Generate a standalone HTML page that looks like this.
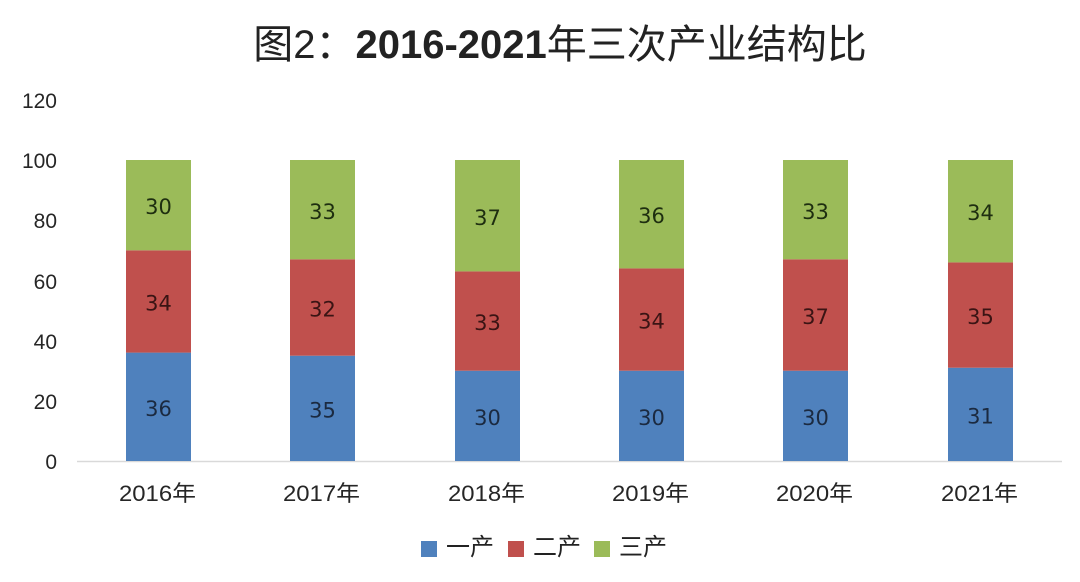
<!DOCTYPE html>
<html><head><meta charset="utf-8"><style>
html,body{margin:0;padding:0;background:#fff;}
svg{display:block;}
text{font-family:"Liberation Sans","Noto Sans CJK SC",sans-serif;}
.lbl{font-family:"DejaVu Sans","Liberation Sans",sans-serif;}
</style></head><body>
<svg width="1080" height="582" viewBox="0 0 1080 582" xmlns="http://www.w3.org/2000/svg">
<rect width="1080" height="582" fill="#fff"/>
<text x="560" y="58" text-anchor="middle" font-size="40" fill="#222"><tspan>图2：</tspan><tspan font-weight="bold">2016-2021</tspan><tspan>年三次产业结构比</tspan></text>
<g font-size="21" fill="#262626" text-anchor="end">
<text x="57" y="108">120</text>
<text x="57" y="168">100</text>
<text x="57" y="228">80</text>
<text x="57" y="289">60</text>
<text x="57" y="349">40</text>
<text x="57" y="409">20</text>
<text x="57" y="469">0</text>
</g>
<line x1="77" y1="461.5" x2="1062" y2="461.5" stroke="#d9d9d9" stroke-width="1.5"/>
<g font-size="21" text-anchor="middle" class="lbl">
<!-- 2016 -->
<rect x="126" y="352.6" width="65" height="108.4" fill="#4F81BD"/>
<rect x="126" y="250.3" width="65" height="102.3" fill="#C0504D"/>
<rect x="126" y="160" width="65" height="90.3" fill="#9BBB59"/>
<text class="lbl" x="158.5" y="416" fill="#1b2a40">36</text>
<text class="lbl" x="158.5" y="310.5" fill="#3a1414">34</text>
<text class="lbl" x="158.5" y="214" fill="#1e2e10">30</text>
<!-- 2017 -->
<rect x="290" y="355.7" width="65" height="105.3" fill="#4F81BD"/>
<rect x="290" y="259.3" width="65" height="96.4" fill="#C0504D"/>
<rect x="290" y="160" width="65" height="99.3" fill="#9BBB59"/>
<text class="lbl" x="322.5" y="417.5" fill="#1b2a40">35</text>
<text class="lbl" x="322.5" y="316.5" fill="#3a1414">32</text>
<text class="lbl" x="322.5" y="219" fill="#1e2e10">33</text>
<!-- 2018 -->
<rect x="455" y="370.7" width="65" height="90.3" fill="#4F81BD"/>
<rect x="455" y="271.4" width="65" height="99.3" fill="#C0504D"/>
<rect x="455" y="160" width="65" height="111.4" fill="#9BBB59"/>
<text class="lbl" x="487.5" y="425" fill="#1b2a40">30</text>
<text class="lbl" x="487.5" y="330" fill="#3a1414">33</text>
<text class="lbl" x="487.5" y="225" fill="#1e2e10">37</text>
<!-- 2019 -->
<rect x="619" y="370.7" width="65" height="90.3" fill="#4F81BD"/>
<rect x="619" y="268.4" width="65" height="102.3" fill="#C0504D"/>
<rect x="619" y="160" width="65" height="108.4" fill="#9BBB59"/>
<text class="lbl" x="651.5" y="425" fill="#1b2a40">30</text>
<text class="lbl" x="651.5" y="328.5" fill="#3a1414">34</text>
<text class="lbl" x="651.5" y="223" fill="#1e2e10">36</text>
<!-- 2020 -->
<rect x="783" y="370.7" width="65" height="90.3" fill="#4F81BD"/>
<rect x="783" y="259.3" width="65" height="111.4" fill="#C0504D"/>
<rect x="783" y="160" width="65" height="99.3" fill="#9BBB59"/>
<text class="lbl" x="815.5" y="425" fill="#1b2a40">30</text>
<text class="lbl" x="815.5" y="324" fill="#3a1414">37</text>
<text class="lbl" x="815.5" y="219" fill="#1e2e10">33</text>
<!-- 2021 -->
<rect x="948" y="367.7" width="65" height="93.3" fill="#4F81BD"/>
<rect x="948" y="262.4" width="65" height="105.3" fill="#C0504D"/>
<rect x="948" y="160" width="65" height="102.4" fill="#9BBB59"/>
<text class="lbl" x="980.5" y="423.5" fill="#1b2a40">31</text>
<text class="lbl" x="980.5" y="324" fill="#3a1414">35</text>
<text class="lbl" x="980.5" y="220" fill="#1e2e10">34</text>
</g>
<g font-size="22" fill="#262626" text-anchor="middle">
<text x="157.5" y="501" textLength="77" lengthAdjust="spacingAndGlyphs">2016年</text>
<text x="321.5" y="501" textLength="77" lengthAdjust="spacingAndGlyphs">2017年</text>
<text x="486.5" y="501" textLength="77" lengthAdjust="spacingAndGlyphs">2018年</text>
<text x="650.5" y="501" textLength="77" lengthAdjust="spacingAndGlyphs">2019年</text>
<text x="814.5" y="501" textLength="77" lengthAdjust="spacingAndGlyphs">2020年</text>
<text x="979.5" y="501" textLength="77" lengthAdjust="spacingAndGlyphs">2021年</text>
</g>
<g font-size="24" fill="#222">
<rect x="421" y="541" width="16" height="16" fill="#4F81BD"/>
<text x="446" y="555">一产</text>
<rect x="508" y="541" width="16" height="16" fill="#C0504D"/>
<text x="533" y="555">二产</text>
<rect x="594" y="541" width="16" height="16" fill="#9BBB59"/>
<text x="619" y="555">三产</text>
</g>
</svg>
</body></html>
